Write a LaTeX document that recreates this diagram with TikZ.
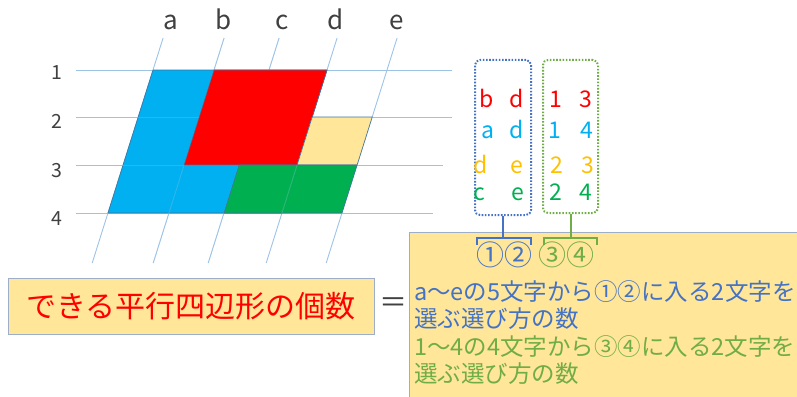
\documentclass[tikz,border=0pt]{standalone}
\usepackage{fontspec}
\setmainfont{Noto Sans CJK JP}
\definecolor{gridc}{HTML}{9DC3E6}
\definecolor{shblue}{HTML}{00B0F0}
\definecolor{shred}{HTML}{FF0000}
\definecolor{shyel}{HTML}{FFE699}
\definecolor{shgreen}{HTML}{00B050}
\definecolor{txyel}{HTML}{FFC000}
\definecolor{edgec}{HTML}{41719C}
\definecolor{bxblue}{HTML}{4472C4}
\definecolor{bxgreen}{HTML}{70AD47}
\definecolor{boxedge}{HTML}{9DAFC8}
\definecolor{labc}{HTML}{404040}
\newcommand\myfs[1]{\fontsize{#1}{#1}\selectfont}
\begin{document}
\begin{tikzpicture}[x=1pt,y=-1pt,
  gridl/.style={draw=gridc,line width=0.9pt},
  pgram/.style={draw=edgec,line width=0.6pt},
  collab/.style={text=labc,font=\myfs{26},inner sep=0pt,anchor=base},
  rowlab/.style={text=labc,font=\myfs{19.5},inner sep=0pt,anchor=base},
  pick/.style={font=\myfs{23},inner sep=0pt,anchor=base},
  dotbox/.style={draw,line width=2pt,dash pattern=on 1.6pt off 1.6pt,rounded corners=5pt,inner sep=0pt},
  bracket/.style={line width=2.6pt},
  ybox/.style={fill=shyel,draw=boxedge,line width=0.8pt,inner sep=0pt},
  expl/.style={font=\myfs{23.5},inner sep=0pt,anchor=west},
  faint/.style={opacity=0.3}]
\useasboundingbox (0,0) rectangle (797,396);
% grid points
\foreach \n/\x in {a/153,b/214,c/269,d/327,e/387}{
  \foreach \r/\y in {1/70,2/117,3/165,4/213}{
    \coordinate (\n\r) at ({\x-0.315*(\y-70)},\y);
  }
  \coordinate (\n-top) at ({\x+0.315*32},38);
  \coordinate (\n-bot) at ({\x-0.315*193},263);
}
% grid lines
\foreach \n in {a,b,c,d,e}{\draw[gridl] (\n-top) -- (\n-bot);}
\draw[gridl] (76,70) -- (452,70);
\draw[gridl] (76,117) -- (452,117);
\draw[gridl] (76,165) -- (443,165);
\draw[gridl] (76,213) -- (433,213);
% parallelograms
\filldraw[pgram,fill=shblue] (a1) -- (d1) -- (d4) -- (a4) -- cycle;
\begin{scope}[faint]
\foreach \n in {b,c}{\draw[gridl] (\n-top) -- (\n-bot);}
\draw[gridl] (76,117) -- (452,117);
\draw[gridl] (76,165) -- (443,165);
\end{scope}
\filldraw[pgram,fill=shred] (b1) -- (d1) -- (d3) -- (b3) -- cycle;
\filldraw[pgram,fill=shyel] (d2) -- (e2) -- (e3) -- (d3) -- cycle;
\filldraw[pgram,fill=shgreen] (c3) -- (e3) -- (e4) -- (c4) -- cycle;
\begin{scope}[faint]
\clip (c3) -- (e3) -- (e4) -- (c4) -- cycle;
\draw[gridl] (d-top) -- (d-bot);
\end{scope}
% labels
\node[collab] (la) at (171,30) {a};
\node[collab] (lb) at (224,30) {b};
\node[collab] (lc) at (282,30) {c};
\node[collab] (ld) at (336,30) {d};
\node[collab] (le) at (397,30) {e};
\node[rowlab] (r1) at (57,79) {1};
\node[rowlab] (r2) at (57,128) {2};
\node[rowlab] (r3) at (57,177) {3};
\node[rowlab] (r4) at (57,225) {4};
% dotted boxes
\node[dotbox,draw=bxblue,minimum width=56pt,minimum height=155pt] (bx1) at (503,137.5) {};
\node[dotbox,draw=bxgreen,minimum width=55pt,minimum height=153pt] (bx2) at (570.5,136.5) {};
% picks
\node[pick,text=shred] (p11) at (487,107) {b};
\node[pick,text=shred] (p12) at (517,107) {d};
\node[pick,text=shred] (p13) at (556,107) {1};
\node[pick,text=shred] (p14) at (586,107) {3};
\node[pick,text=shblue] (p21) at (488,138) {a};
\node[pick,text=shblue] (p22) at (517,138) {d};
\node[pick,text=shblue] (p23) at (555,138) {1};
\node[pick,text=shblue] (p24) at (587,138) {4};
\node[pick,text=txyel] (p31) at (481,173) {d};
\node[pick,text=txyel] (p32) at (517,173) {e};
\node[pick,text=txyel] (p33) at (557,173) {2};
\node[pick,text=txyel] (p34) at (588,173) {3};
\node[pick,text=shgreen] (p41) at (479,200) {c};
\node[pick,text=shgreen] (p42) at (518,200) {e};
\node[pick,text=shgreen] (p43) at (556,200) {2};
\node[pick,text=shgreen] (p44) at (586,200) {4};
% explanation box
\node[ybox,anchor=north west,minimum width=400pt,minimum height=170pt] (ex) at (409,232) {};
% brackets
\coordinate (j1) at (503,238);
\coordinate (j2) at (571,238);
\draw[bracket,draw=bxblue] (bx1.south) -- (j1);
\draw[bracket,draw=bxblue] (477,245) -- (477,238) -- (531,238) -- (531,245);
\draw[bracket,draw=bxgreen] (bx2.south -| j2) -- (j2);
\draw[bracket,draw=bxgreen] (544,245) -- (544,238) -- (597,238) -- (597,245);
\node[font=\myfs{28},text=bxblue,inner sep=0pt] (c12) at (504,255) {①②};
\node[font=\myfs{28},text=bxgreen,inner sep=0pt] (c34) at (566,255) {③④};
\node[expl,text=bxblue] (t1) at (414,292) {a〜eの5文字から①②に入る2文字を};
\node[expl,text=bxblue] (t2) at (414,319) {選ぶ選び方の数};
\node[expl,text=bxgreen] (t3) at (414,347) {1〜4の4文字から③④に入る2文字を};
\node[expl,text=bxgreen] (t4) at (414,374) {選ぶ選び方の数};
% title
\node[ybox,minimum width=366pt,minimum height=56pt] (title) at (191,306) {};
\node[font=\myfs{30},text=shred,inner sep=0pt] (tt) at (title.center) {できる平行四辺形の個数};
\node[font=\myfs{28},text=labc,inner sep=0pt] (eq) at (393,305) {＝};
\end{tikzpicture}
\end{document}
